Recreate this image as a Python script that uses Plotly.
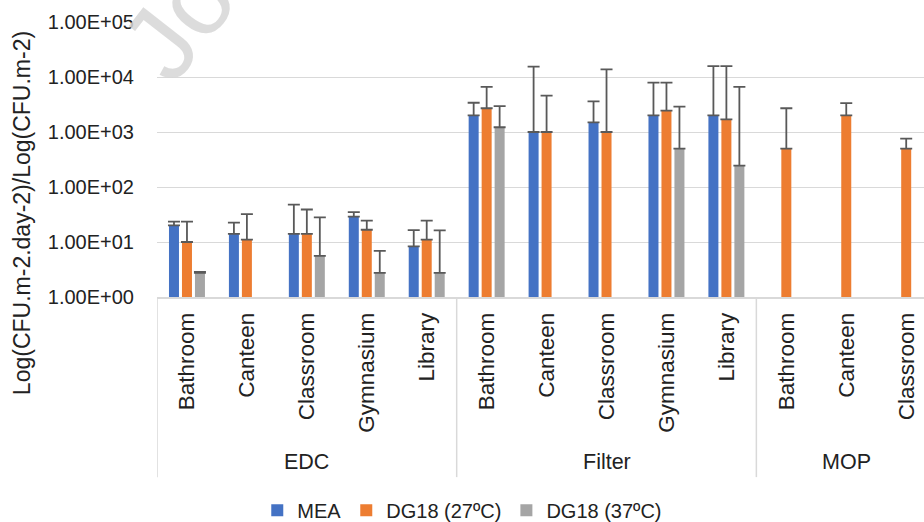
import plotly.graph_objects as go

# ---- data ----
groups = ["EDC", "Filter", "MOP"]
group_categories = [
    ["Bathroom", "Canteen", "Classroom", "Gymnasium", "Library"],
    ["Bathroom", "Canteen", "Classroom", "Gymnasium", "Library"],
    ["Bathroom", "Canteen", "Classroom"],
]
series_names = ["MEA", "DG18 (27ºC)", "DG18 (37ºC)"]

mea = [20, 14, 14, 29, 8.3, 2000, 1000, 1500, 2000, 2000, None, None, None]
mea_sd = [3.5, 8.5, 34, 6, 8.2, 1400, 14500, 2100, 5900, 13800, None, None, None]

dg27 = [10, 11, 14, 16.7, 11, 2700, 1000, 1000, 2450, 1700, 500, 2000, 500]
dg27_sd = [13.5, 21, 25, 7.8, 13.5, 3900, 3600, 12800, 5450, 14100, 2200, 1350, 260]

dg37 = [2.75, None, 5.6, 2.75, 2.75, 1220, None, None, 500, 245, None, None, None]
dg37_sd = [0.1, None, 22.4, 4.15, 13.55, 1730, None, None, 2400, 6355, None, None, None]

y_tick_values = [1, 10, 100, 1000, 10000, 100000]
y_tick_labels = ["1.00E+00", "1.00E+01", "1.00E+02", "1.00E+03", "1.00E+04", "1.00E+05"]
y_title = "Log(CFU.m-2.day-2)/Log(CFU.m-2)"
watermark = "Journal Pre-proof"

colors = ["#4472C4", "#ED7D31", "#A5A5A5"]

# ---- build ----
cat_labels = [c for cats in group_categories for c in cats]
xpos = list(range(len(cat_labels)))

FONT = "Liberation Sans, Arial, sans-serif"
TXT = "#222222"
GRID = "#D9D9D9"

fig = go.Figure()

# faint watermark fragment (mostly off the top edge, as in the source)
fig.add_annotation(x=0.309, xref="paper", y=2.009, yref="paper",
                   text=watermark, textangle=-52, showarrow=False,
                   xanchor="center", yanchor="middle",
                   font=dict(size=105, color="rgba(214,214,214,0.85)"))

for name, vals, sds, col in zip(series_names, [mea, dg27, dg37],
                                [mea_sd, dg27_sd, dg37_sd], colors):
    fig.add_trace(go.Bar(
        x=xpos, y=vals, name=name,
        marker=dict(color=col, line=dict(width=0)),
        error_y=dict(type="data", symmetric=False, array=sds,
                     arrayminus=[0] * len(sds), color="#595959",
                     thickness=1.8, width=6),
    ))

fig.update_layout(
    width=924, height=522,
    margin=dict(l=157, r=0, t=22, b=225, pad=0, autoexpand=False),
    paper_bgcolor="white", plot_bgcolor="white",
    barmode="group", bargap=0.35, bargroupgap=0.23,
    font=dict(family=FONT, color=TXT, size=20),
    showlegend=True,
    legend=dict(orientation="h", x=0.398, xanchor="center", y=-0.775,
                yanchor="middle", font=dict(size=20, color=TXT),
                itemwidth=30, tracegroupgap=0),
)

fig.update_yaxes(
    type="log", range=[0, 5], automargin=False,
    tickvals=y_tick_values, ticktext=y_tick_labels,
    showgrid=True, gridcolor=GRID, gridwidth=1.4,
    zeroline=False, showline=False, ticks="",
    ticklabelstandoff=22,
    tickfont=dict(size=20, color=TXT),
)
fig.update_xaxes(
    range=[-0.5, 12.297], automargin=False,
    tickvals=xpos, ticktext=cat_labels, tickangle=-90,
    tickfont=dict(size=22.5, color=TXT),
    ticks="", ticklabelstandoff=5,
    showgrid=False, zeroline=False,
    showline=True, linecolor=GRID, linewidth=1.5,
)

# group separators
bottom = -0.655
start = 0
edges = [-0.5]
for cats in group_categories:
    start += len(cats)
    edges.append(start - 0.5)
for e in edges:
    fig.add_shape(type="line", xref="x", yref="paper", x0=e, x1=e,
                  y0=0, y1=bottom, line=dict(color=GRID, width=1.5))

# group labels
start = 0
for g, cats in zip(groups, group_categories):
    center = start + (len(cats) - 1) / 2
    fig.add_annotation(x=center, xref="x", y=-0.6, yref="paper",
                       text=g, showarrow=False, xanchor="center",
                       yanchor="middle", font=dict(size=21.5, color=TXT))
    start += len(cats)

# y axis title
fig.add_annotation(x=-0.176, xref="paper", y=0.305, yref="paper",
                   text=y_title, textangle=-90, showarrow=False,
                   xanchor="center", yanchor="middle",
                   font=dict(size=23, color=TXT))

fig.write_html(
    "out.html",
    config={"displayModeBar": False},
    post_script="document.body.style.margin='0';"
                "document.body.style.overflow='hidden';",
)
